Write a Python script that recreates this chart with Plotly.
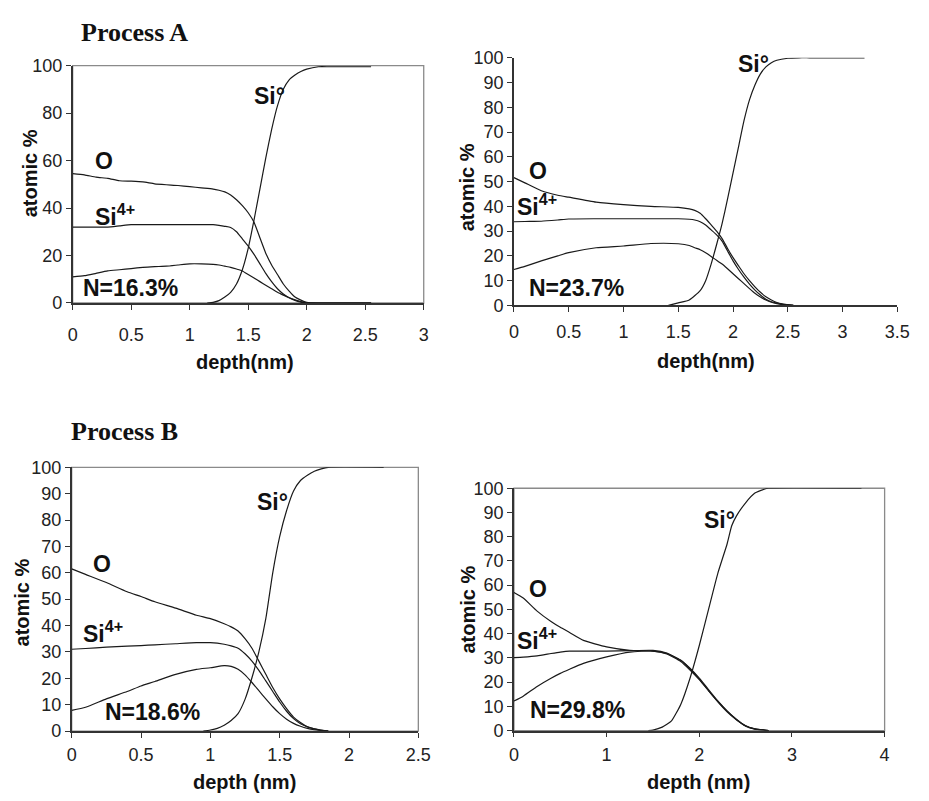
import plotly.graph_objects as go

W, H = 929, 801


def fx(X):
    return X / W


def fy(Y):
    return 1 - Y / H


# ---------------- data ----------------
a1_depth = [0, 0.1, 0.2, 0.3, 0.4, 0.5, 0.6, 0.7, 0.8, 0.9, 1.0, 1.1, 1.2, 1.25, 1.3, 1.35,
            1.4, 1.45, 1.5, 1.55, 1.6, 1.65, 1.7, 1.75, 1.8, 1.85, 1.9, 1.95, 2.0, 2.1, 2.3, 2.55]
a1_O = [54.5, 54, 53, 52.5, 51.5, 51.3, 51, 50.2, 49.8, 49.5, 49, 48.5, 48, 47.5, 46.8, 45.5,
        43.5, 41, 38, 34, 27.5, 21, 16, 12, 8, 5, 2.5, 1.2, 0.3, 0, 0, 0]
a1_Si4 = [32, 32, 32, 32, 32.5, 33, 33, 33, 33, 33, 33, 33, 33, 32.7, 32.3, 31.8,
          30, 27, 24, 20.5, 16.5, 12.5, 9, 6, 3.8, 2.2, 1.1, 0.4, 0, 0, 0, 0]
a1_N = [11, 11.5, 12.5, 13.5, 14, 14.5, 15, 15.3, 15.5, 16, 16.5, 16.5, 16.3, 16, 15.5, 15,
        14.3, 13.5, 12, 10.5, 9, 7.5, 6, 4.5, 3.3, 2.2, 1.3, 0.6, 0.1, 0, 0, 0]
a1_si0_depth = [1.15, 1.2, 1.25, 1.3, 1.35, 1.4, 1.45, 1.5, 1.55, 1.6, 1.65, 1.7, 1.75, 1.8,
                1.85, 1.9, 1.95, 2.0, 2.1, 2.2, 2.55]
a1_si0 = [0, 0.3, 1, 2.5, 4.5, 8, 14, 23, 35, 48, 61, 73, 83, 90, 94, 96, 97.5, 98.5, 99.5, 99.5, 99.5]

a2_depth = [0, 0.1, 0.25, 0.4, 0.5, 0.75, 1.0, 1.25, 1.5, 1.6, 1.65, 1.7, 1.75, 1.8, 1.85, 1.9,
            1.95, 2.0, 2.05, 2.1, 2.15, 2.2, 2.25, 2.3, 2.35, 2.4, 2.45, 2.5, 2.55]
a2_O = [51.6, 49.5, 46.3, 44.5, 43.7, 41.7, 40.7, 40.0, 39.6, 39.0, 38.4, 37.2, 35.0, 32.5, 30.0,
        27.0, 23.0, 19.3, 16.0, 12.8, 10.0, 7.5, 5.3, 3.5, 2.2, 1.2, 0.6, 0.3, 0]
a2_Si4 = [33.8, 33.9, 34.0, 34.5, 34.9, 35.0, 35.0, 35.0, 35.0, 34.8, 34.5, 33.8, 32.5, 30.5, 28.5,
          26.0, 22.0, 18.0, 14.5, 11.4, 8.6, 6.2, 4.2, 2.5, 1.5, 0.9, 0.4, 0.2, 0]
a2_N = [14.5, 15.8, 18.0, 20.0, 21.3, 23.3, 24.0, 25.0, 24.9, 24.2, 23.3, 22.5, 21.3, 19.8, 18.2,
        16.7, 14.8, 12.8, 10.8, 8.8, 6.8, 4.9, 3.4, 2.2, 1.3, 0.7, 0.3, 0.1, 0]
a2_si0_depth = [1.41, 1.5, 1.6, 1.7, 1.75, 1.8, 1.85, 1.9, 1.95, 2.0, 2.05, 2.1, 2.15, 2.2, 2.25,
                2.3, 2.35, 2.4, 2.5, 2.6, 2.7, 3.2]
a2_si0 = [0, 1, 2.2, 6, 10, 16.7, 24.6, 33, 43, 53.5, 64, 74.6, 83, 89, 93.5, 96.3, 98, 99, 99.8,
          100, 100, 100]

b1_depth = [0, 0.1, 0.25, 0.4, 0.5, 0.6, 0.75, 0.9, 1.0, 1.1, 1.15, 1.2, 1.25, 1.3, 1.35, 1.4,
            1.45, 1.5, 1.55, 1.6, 1.65, 1.7, 1.75, 1.8, 1.85]
b1_O = [61.5, 59.4, 56.3, 52.8, 51.0, 49.0, 46.6, 43.9, 42.6, 40.7, 39.5, 37.9, 35.0, 31.4, 26.5,
        21.5, 16.5, 12.2, 8.5, 5.3, 3.2, 1.6, 0.8, 0.4, 0]
b1_Si4 = [31.0, 31.3, 31.8, 32.2, 32.4, 32.7, 33.1, 33.5, 33.5, 32.9, 32.3, 31.4, 29.3, 26.5, 23.0,
          19.0, 15.0, 11.0, 7.5, 4.7, 2.8, 1.6, 0.8, 0.3, 0]
b1_N = [7.8, 9.0, 12.2, 15.0, 17.1, 18.8, 21.5, 23.4, 24.0, 24.8, 24.5, 23.4, 21.3, 18.4, 15.3,
        12.2, 9.2, 6.6, 4.5, 2.9, 1.8, 1.0, 0.5, 0.2, 0]
b1_si0_depth = [0.95, 1.0, 1.05, 1.1, 1.15, 1.2, 1.25, 1.3, 1.35, 1.4, 1.45, 1.5, 1.55, 1.6, 1.65,
                1.7, 1.75, 1.8, 1.85, 2.25]
b1_si0 = [0, 0.4, 1.0, 2.2, 4, 6.6, 12, 20.2, 30, 42.6, 60, 73.7, 83.6, 91, 95, 97, 98.5, 99.4,
          100, 100]

b2_depth = [0, 0.1, 0.25, 0.4, 0.5, 0.6, 0.75, 1.0, 1.25, 1.5, 1.65, 1.8, 1.9, 2.0, 2.1, 2.2,
            2.3, 2.4, 2.5, 2.6, 2.7, 2.75]
b2_O = [57, 54.7, 49.3, 45.0, 42.6, 40.5, 37.2, 34.5, 33.1, 32.8, 31.8, 29.0, 25.7, 21.6, 16.9,
        12.2, 8.1, 4.7, 2.0, 0.7, 0.2, 0]
b2_Si4 = [30.1, 30.3, 30.8, 31.8, 32.4, 32.8, 32.8, 32.8, 33.0, 33.1, 32.0, 29.0, 25.5, 21.2, 16.5,
          12.0, 8.0, 4.6, 2.0, 0.7, 0.2, 0]
b2_N = [12.2, 14.2, 18.2, 21.6, 23.6, 25.3, 27.7, 30.4, 32.4, 32.8, 31.6, 28.5, 25.0, 21.0, 16.4,
        11.8, 7.7, 4.4, 1.8, 0.6, 0.2, 0]
b2_si0_depth = [1.45, 1.5, 1.6, 1.7, 1.8, 1.9, 2.0, 2.1, 2.2, 2.3, 2.35, 2.4, 2.5, 2.6, 2.7, 2.75, 3.75]
b2_si0 = [0, 0.2, 1.4, 4, 10.8, 21.6, 35.1, 50, 64.9, 77, 84.5, 88.5, 94, 98, 99.6, 100, 100]

# ---------------- figure ----------------
panels = [
    dict(depth=a1_depth, O=a1_O, Si4=a1_Si4, N=a1_N, sd=a1_si0_depth, s=a1_si0,
         px=(69, 427), py=(57, 300.5), xr=[0, 3], dx=0.5, dy=20, box=True,
         labels=[("N=16.3%", 78, 285)], si0=(252, 88), o=(90, 155), si4=(90, 210),
         xt=("depth(nm)", 245, 361), yt=(25, 168), stand=10),
    dict(depth=a2_depth, O=a2_O, Si4=a2_Si4, N=a2_N, sd=a2_si0_depth, s=a2_si0,
         px=(519, 910), py=(49, 303), xr=[0, 3.5], dx=0.5, dy=10, box=False,
         labels=[("N=23.7%", 532, 285)], si0=(745, 55), o=(532, 165), si4=(520, 200),
         xt=("depth(nm)", 715, 360), yt=(472, 182), stand=4),
    dict(depth=b1_depth, O=b1_O, Si4=b1_Si4, N=b1_N, sd=b1_si0_depth, s=b1_si0,
         px=(68, 421.5), py=(469, 739.5), xr=[0, 2.5], dx=0.5, dy=10, box=True,
         labels=[("N=18.6%", 100, 720)], si0=(255, 505), o=(88, 568), si4=(77, 638),
         xt=("depth (nm)", 244, 791.5), yt=(17, 608), stand=2),
    dict(depth=b2_depth, O=b2_O, Si4=b2_Si4, N=b2_N, sd=b2_si0_depth, s=b2_si0,
         px=(519, 897), py=(490.5, 739), xr=[0, 4], dx=1, dy=10, box=True,
         labels=[("N=29.8%", 533, 718)], si0=(711, 523), o=(532, 594), si4=(520, 645),
         xt=("depth (nm)", 707, 791.5), yt=(472, 615), stand=2),
]

fig = go.Figure()
line = dict(color="#1a1a1a", width=1.2, shape="spline", smoothing=0.5)
annots = []
shapes = []
TICKFONT = dict(family="Liberation Sans, Arial, sans-serif", size=18, color="#222")
LBLFONT = dict(family="Liberation Sans, Arial, sans-serif", size=23, color="#111")
TITLEFONT = dict(family="Liberation Sans, Arial, sans-serif", size=20, color="#111")

for i, p in enumerate(panels, start=1):
    xa = "x" if i == 1 else f"x{i}"
    ya = "y" if i == 1 else f"y{i}"
    for yv in (p["O"], p["Si4"], p["N"]):
        fig.add_trace(go.Scatter(x=p["depth"], y=yv, mode="lines", line=line,
                                 xaxis=xa, yaxis=ya, showlegend=False, hoverinfo="skip"))
    fig.add_trace(go.Scatter(x=p["sd"], y=p["s"], mode="lines", line=line,
                             xaxis=xa, yaxis=ya, showlegend=False, hoverinfo="skip"))
    xkey = "xaxis" if i == 1 else f"xaxis{i}"
    ykey = "yaxis" if i == 1 else f"yaxis{i}"
    fig.update_layout(**{
        xkey: dict(domain=[fx(p["px"][0]), fx(p["px"][1])], range=p["xr"], dtick=p["dx"], tick0=0,
                   anchor=ya, showgrid=False, zeroline=False, showline=True, linecolor="#333",
                   linewidth=1.5, ticks="outside", ticklen=5, tickcolor="#333", tickwidth=1.2,
                   tickfont=TICKFONT, ticklabelstandoff=p["stand"], fixedrange=True),
        ykey: dict(domain=[fy(p["py"][1]), fy(p["py"][0])], range=[0, 100], dtick=p["dy"],
                   tick0=0, anchor=xa, showgrid=False, zeroline=False, showline=True,
                   linecolor="#333", linewidth=1.5, ticks="outside", ticklen=5, tickcolor="#333",
                   tickwidth=1.2, tickfont=TICKFONT, ticklabelstandoff=0, fixedrange=True),
    })
    if p["box"]:
        shapes.append(dict(type="rect", xref=f"{xa} domain", yref=f"{ya} domain",
                           x0=0, x1=1, y0=0, y1=1, line=dict(color="#8a8a8a", width=1.3),
                           layer="below"))
    for txt, lx, ly in p["labels"]:
        annots.append(dict(text=f"<b>{txt}</b>", x=fx(lx), y=fy(ly), xref="paper", yref="paper",
                           xanchor="left", yanchor="middle", showarrow=False, font=LBLFONT))
    annots.append(dict(text="<b>Si°</b>", x=fx(p["si0"][0]), y=fy(p["si0"][1]), xref="paper",
                       yref="paper", xanchor="left", yanchor="middle", showarrow=False, font=LBLFONT))
    annots.append(dict(text="<b>O</b>", x=fx(p["o"][0]), y=fy(p["o"][1]), xref="paper",
                       yref="paper", xanchor="left", yanchor="middle", showarrow=False, font=LBLFONT))
    annots.append(dict(text="<b>Si<sup>4+</sup></b>", x=fx(p["si4"][0]), y=fy(p["si4"][1]),
                       xref="paper", yref="paper", xanchor="left", yanchor="middle",
                       showarrow=False, font=LBLFONT))
    t, tx, ty = p["xt"]
    annots.append(dict(text=f"<b>{t}</b>", x=fx(tx), y=fy(ty), xref="paper", yref="paper",
                       xanchor="center", yanchor="middle", showarrow=False, font=TITLEFONT))
    annots.append(dict(text="<b>atomic %</b>", x=fx(p["yt"][0]), y=fy(p["yt"][1]), xref="paper",
                       yref="paper", xanchor="center", yanchor="middle", showarrow=False,
                       textangle=-90, font=TITLEFONT))

for txt, lx, ly in [("Process A", 75, 23), ("Process B", 65, 432)]:
    annots.append(dict(text=f"<b>{txt}</b>", x=fx(lx), y=fy(ly), xref="paper", yref="paper",
                       xanchor="left", yanchor="middle", showarrow=False,
                       font=dict(family="Liberation Serif, Times New Roman, serif", size=26,
                                 color="#111")))

fig.update_layout(width=W, height=H, margin=dict(l=0, r=0, t=0, b=0),
                  paper_bgcolor="white", plot_bgcolor="white",
                  annotations=annots, shapes=shapes, showlegend=False)

fig.write_html("out.html", config={"displayModeBar": False})
